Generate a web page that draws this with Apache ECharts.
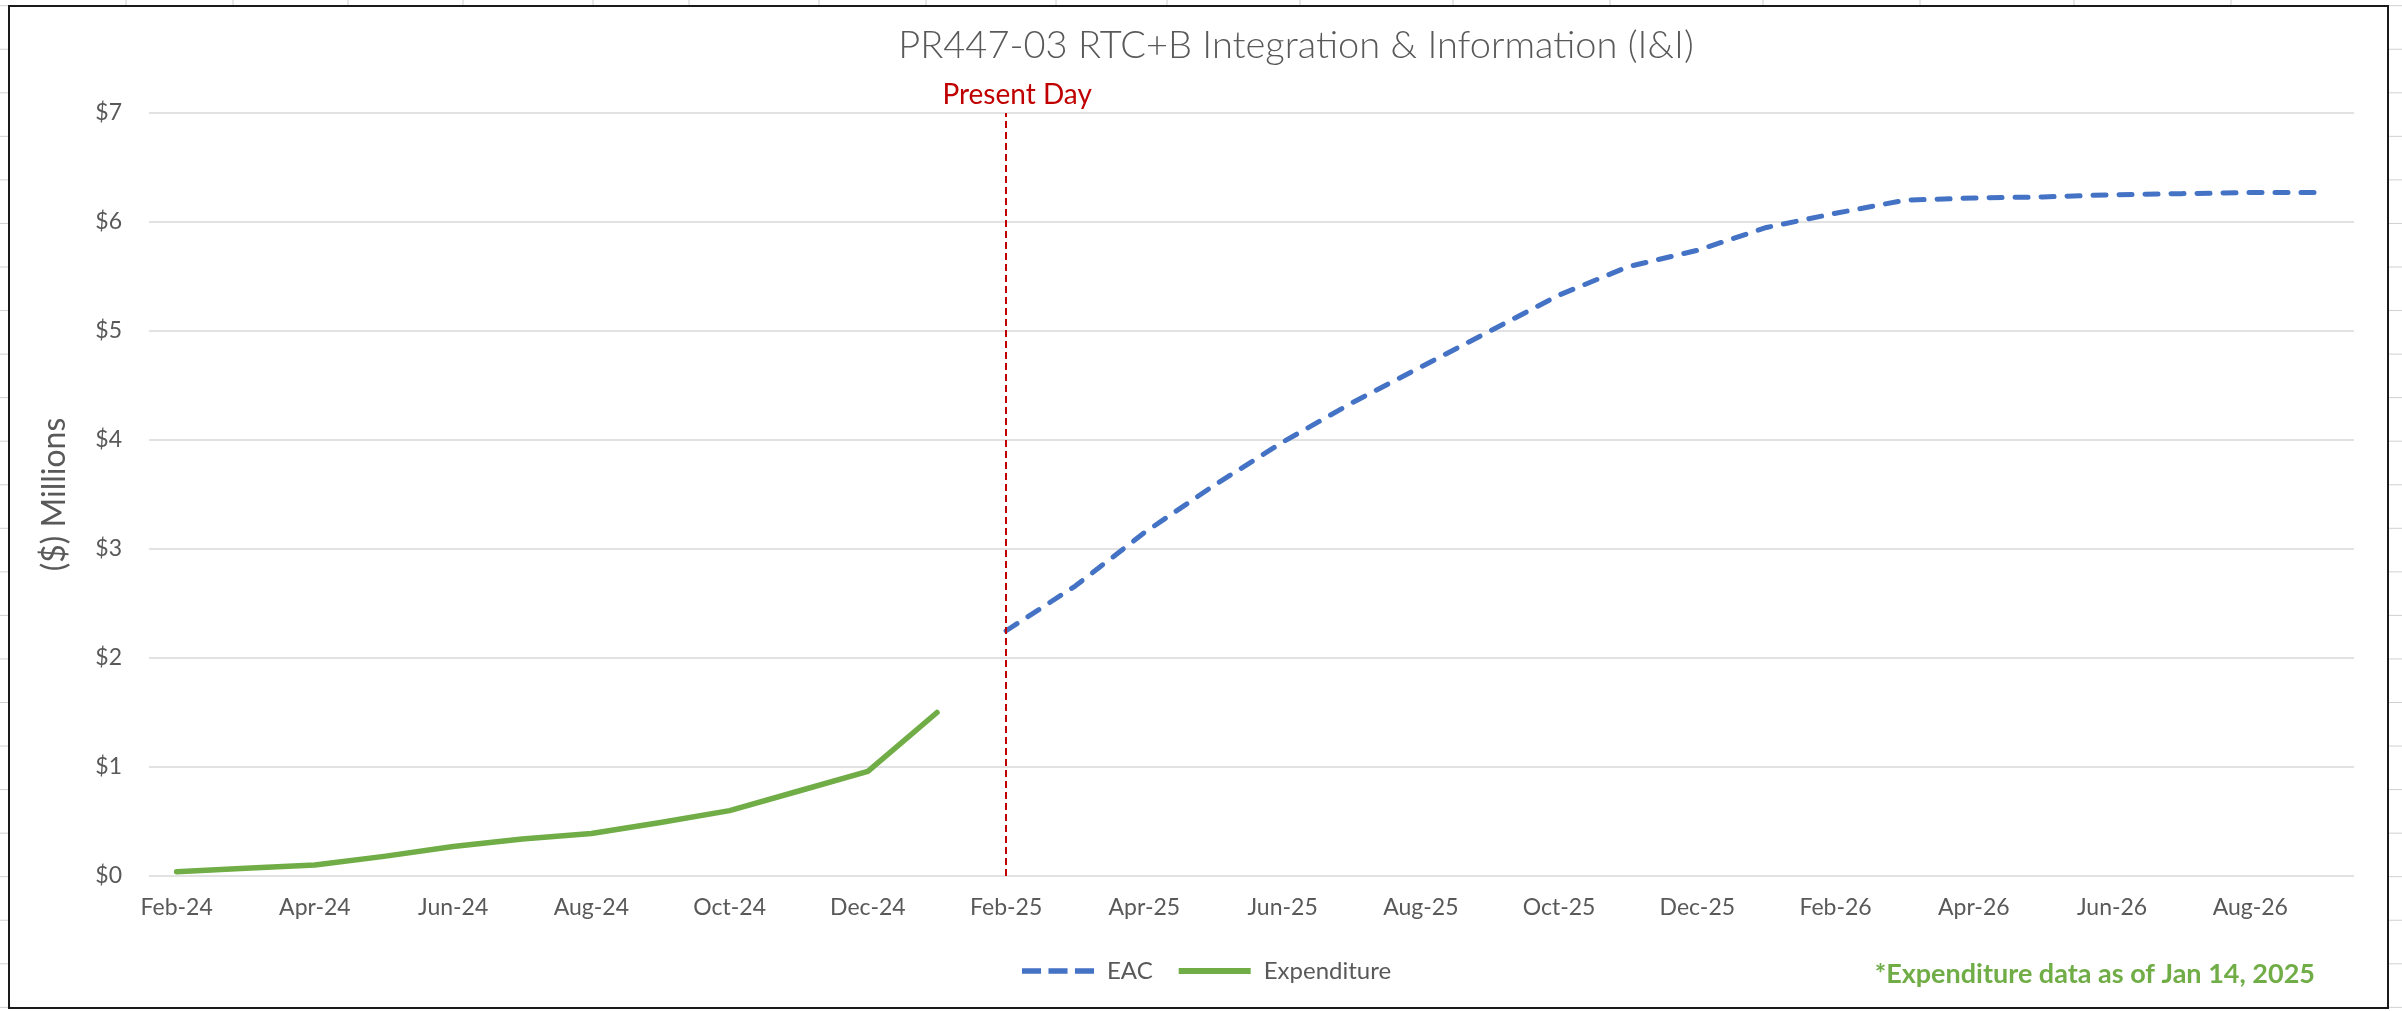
<!DOCTYPE html>
<html>
<head>
<meta charset="utf-8">
<script src="https://cdn.jsdelivr.net/npm/echarts@6/dist/echarts.min.js"></script>
<style>
html,body{margin:0;padding:0;background:#fff;}
#chart{width:2402px;height:1011px;}
</style>
</head>
<body>
<div id="chart"></div>
<script>
// Month categories (index 0 = Feb-24)
const months = ['Feb-24','Mar-24','Apr-24','May-24','Jun-24','Jul-24','Aug-24','Sep-24','Oct-24','Nov-24','Dec-24','Jan-25',
  'Feb-25','Mar-25','Apr-25','May-25','Jun-25','Jul-25','Aug-25','Sep-25','Oct-25','Nov-25','Dec-25','Jan-26',
  'Feb-26','Mar-26','Apr-26','May-26','Jun-26','Jul-26','Aug-26','Sep-26'];
// Tick labels shown every two months
const tickIdx = [0,2,4,6,8,10,12,14,16,18,20,22,24,26,28,30];
// Expenditure ($M), Feb-24 .. Jan-25
const expenditure = [0.04,0.07,0.10,0.18,0.27,0.34,0.39,0.49,0.60,0.78,0.96,1.50];
// EAC ($M), Feb-25 .. Sep-26
const eacStart = 12;
const eac = [2.25,2.66,3.15,3.58,3.98,4.34,4.67,5.00,5.33,5.59,5.74,5.95,6.08,6.20,6.22,6.23,6.25,6.26,6.27,6.27];
const presentDayIdx = 12;

const FONT = 'Lato, "Open Sans", sans-serif';
const GRAY = '#595959';

// decorative spreadsheet cell borders outside the chart frame
const deco = [];
const colX = [126,233,348,463,593,689,819,926,1056,1167,1300,1453,1610,1763,1920,2074,2231];
colX.forEach(x => deco.push({type:'line', shape:{x1:x,y1:0,x2:x,y2:6}, style:{stroke:'#D0D0D0',lineWidth:1}, silent:true}));
for (let y = 5.7; y < 1011; y += 43.55) {
  deco.push({type:'line', shape:{x1:0,y1:y,x2:9,y2:y}, style:{stroke:'#D0D0D0',lineWidth:1}, silent:true});
  deco.push({type:'line', shape:{x1:2388,y1:y,x2:2402,y2:y}, style:{stroke:'#D0D0D0',lineWidth:1}, silent:true});
}

const chart = echarts.init(document.getElementById('chart'), null, {renderer:'canvas'});
chart.setOption({
  animation: false,
  backgroundColor: '#fff',
  title: {
    text: 'PR447-03 RTC+B Integration & Information (I&I)',
    left: 1291, top: 22, textAlign: 'center',
    textStyle: {fontFamily: FONT, fontWeight: 300, fontSize: 38, color: GRAY}
  },
  legend: {
    data: [
      {name: 'EAC', icon: 'path://M0,0H18V5H0Z M25,0H43V5H25Z M50,0H68V5H50Z'},
      {name: 'Expenditure', icon: 'rect'}
    ],
    left: 1017, top: 954,
    itemWidth: 72, itemHeight: 6, itemGap: 26,
    textStyle: {fontFamily: FONT, fontSize: 24, color: GRAY, padding:[0,0,0,8]}
  },
  grid: {left: 149, right: 48, top: 113, bottom: 135},
  xAxis: {
    type: 'value', min: -0.4, max: 31.5,
    axisLine: {show: false}, axisTick: {show: false}, splitLine: {show: false},
    axisLabel: {
      customValues: tickIdx,
      formatter: v => months[Math.round(v)] || '',
      fontFamily: FONT, fontSize: 23, color: GRAY, margin: 20
    }
  },
  yAxis: {
    type: 'value', min: 0, max: 7, interval: 1,
    name: '($) Millions', nameLocation: 'middle', nameGap: 78,
    nameTextStyle: {fontFamily: FONT, fontSize: 32, color: GRAY},
    axisLine: {show: false}, axisTick: {show: false},
    splitLine: {lineStyle: {color: '#D9D9D9', width: 1.5}},
    axisLabel: {formatter: v => '$' + v, fontFamily: FONT, fontSize: 23, color: GRAY, margin: 27}
  },
  series: [
    {
      name: 'EAC', type: 'line', showSymbol: false, symbol: 'none',
      data: eac.map((v,i) => [eacStart + i, v]),
      lineStyle: {color: '#4472C4', width: 5, type: [13,13], cap: 'round', join: 'round'},
      itemStyle: {color: '#4472C4'},
      markLine: {
        silent: true, symbol: 'none',
        data: [{xAxis: presentDayIdx}],
        lineStyle: {color: '#C00000', width: 2, type: [7,4]},
        label: {show: true, formatter: 'Present Day', position: 'end', distance: 4, offset: [11,0],
          fontFamily: FONT, fontSize: 28, color: '#C00000'}
      },
      z: 3
    },
    {
      name: 'Expenditure', type: 'line', showSymbol: false, symbol: 'none',
      data: expenditure.map((v,i) => [i, v]),
      lineStyle: {color: '#70AD47', width: 5.5, cap: 'round', join: 'round'},
      itemStyle: {color: '#70AD47'},
      z: 3
    }
  ],
  graphic: deco.concat([
    {type:'rect', shape:{x:9,y:6,width:2379,height:1002}, style:{fill:'none',stroke:'#1a1a1a',lineWidth:2}, silent:true, z:10},
    {type:'text', x: 2315, y: 974, style:{text:'*Expenditure data as of Jan 14, 2025', fill:'#70AD47',
      font:'bold 27px ' + FONT, textAlign:'right', textVerticalAlign:'middle'}, silent:true}
  ])
});
</script>
</body>
</html>
